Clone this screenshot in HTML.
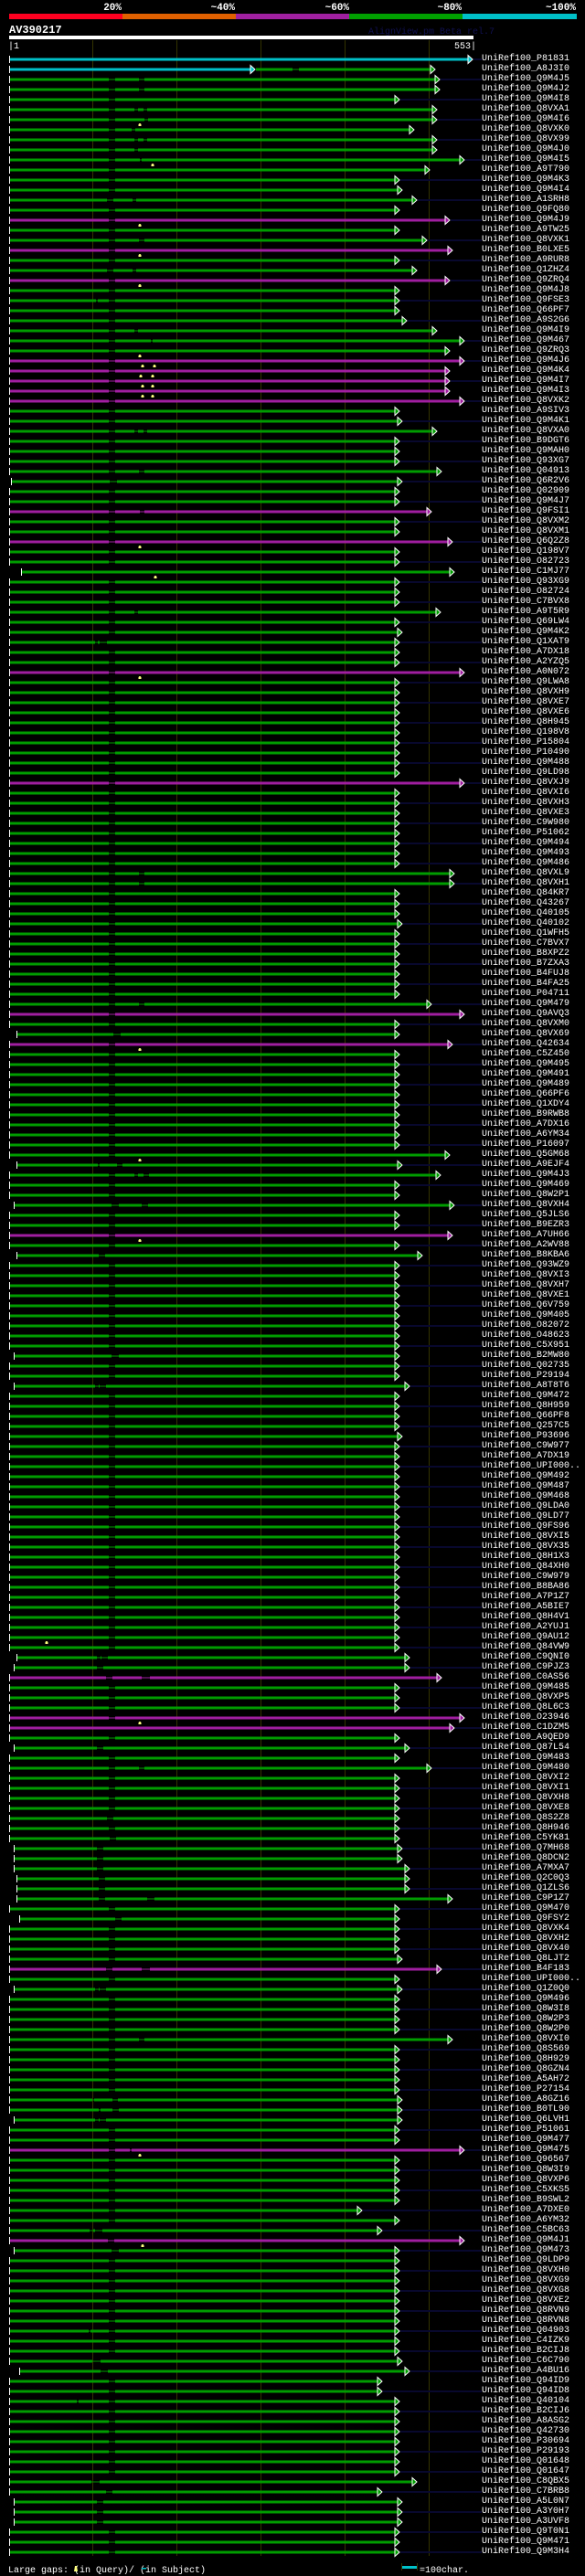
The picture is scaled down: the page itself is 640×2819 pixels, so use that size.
<!DOCTYPE html>
<html><head><meta charset="utf-8">
<style>
html,body{margin:0;padding:0;background:#000;}
body{width:640px;height:2819px;position:relative;overflow:hidden;font-family:"Liberation Mono",monospace;}
#lab{position:absolute;left:527px;top:59px;margin:0;font:10px/11px "Liberation Mono",monospace;color:#fff;white-space:pre;}
svg{position:absolute;left:0;top:0;}
</style></head><body>
<svg id="s" width="640" height="2819" xmlns="http://www.w3.org/2000/svg">
<g font-family="Liberation Mono, monospace" font-weight="bold" font-size="11" fill="#fff" text-anchor="end">
<text x="133" y="11">20%</text><text x="257" y="11">~40%</text><text x="382" y="11">~60%</text><text x="505" y="11">~80%</text><text x="630" y="11">~100%</text>
</g>
<rect x="10" y="15" width="124" height="6" fill="#ff0020"/>
<rect x="134" y="15" width="124" height="6" fill="#e06000"/>
<rect x="258" y="15" width="124" height="6" fill="#a020a0"/>
<rect x="382" y="15" width="124" height="6" fill="#00a000"/>
<rect x="506" y="15" width="125" height="6" fill="#00c0c8"/>
<text x="10" y="36" font-family="Liberation Mono, monospace" font-weight="bold" font-size="12" fill="#fff">AV390217</text>
<text x="403" y="37" font-family="Liberation Mono, monospace" font-size="10" fill="#101050">AlignView.pm Beta rel.7</text>
<rect x="10" y="39" width="508" height="4" fill="#fff"/>
<text x="9" y="53" font-family="Liberation Mono, monospace" font-size="10" fill="#fff">|1</text>
<text x="521" y="53" font-family="Liberation Mono, monospace" font-size="10" fill="#fff" text-anchor="end">553|</text>
<g id="grid" stroke="#333300" stroke-width="1">
<line x1="101.5" y1="44" x2="101.5" y2="2797"/><line x1="193.5" y1="44" x2="193.5" y2="2797"/><line x1="285.5" y1="44" x2="285.5" y2="2797"/><line x1="377.5" y1="44" x2="377.5" y2="2797"/><line x1="469.5" y1="44" x2="469.5" y2="2797"/>
</g>
<g id="rows"></g>
<text x="9" y="2815" font-family="Liberation Mono, monospace" font-size="10" fill="#fff">Large gaps:  (in Query)/  (in Subject)</text>
<polygon points="81,2814 82,2808 84,2808 85,2814" fill="#ffff80"/>
<rect x="155" y="2810" width="5" height="1.5" fill="#00c0c8"/>
<rect x="439" y="2805" width="1" height="8" fill="#333300"/>
<rect x="440" y="2808" width="16" height="3" fill="#00c0c8"/>
<rect x="456" y="2805" width="1" height="8" fill="#333300"/>
<text x="459" y="2815" font-family="Liberation Mono, monospace" font-size="10" fill="#fff">=100char.</text>
</svg>
<pre id="lab">UniRef100_P81831
UniRef100_A8J3I0
UniRef100_Q9M4J5
UniRef100_Q9M4J2
UniRef100_Q9M4I8
UniRef100_Q8VXA1
UniRef100_Q9M4I6
UniRef100_Q8VXK0
UniRef100_Q8VX99
UniRef100_Q9M4J0
UniRef100_Q9M4I5
UniRef100_A9T790
UniRef100_Q9M4K3
UniRef100_Q9M4I4
UniRef100_A1SRH8
UniRef100_Q9FQ80
UniRef100_Q9M4J9
UniRef100_A9TW25
UniRef100_Q8VXK1
UniRef100_B0LXE5
UniRef100_A9RUR8
UniRef100_Q1ZHZ4
UniRef100_Q9ZRQ4
UniRef100_Q9M4J8
UniRef100_Q9FSE3
UniRef100_Q66PF7
UniRef100_A9S2G6
UniRef100_Q9M4I9
UniRef100_Q9M467
UniRef100_Q9ZRQ3
UniRef100_Q9M4J6
UniRef100_Q9M4K4
UniRef100_Q9M4I7
UniRef100_Q9M4I3
UniRef100_Q8VXK2
UniRef100_A9SIV3
UniRef100_Q9M4K1
UniRef100_Q8VXA0
UniRef100_B9DGT6
UniRef100_Q9MAH0
UniRef100_Q93XG7
UniRef100_Q04913
UniRef100_Q6R2V6
UniRef100_Q02909
UniRef100_Q9M4J7
UniRef100_Q9FSI1
UniRef100_Q8VXM2
UniRef100_Q8VXM1
UniRef100_Q6Q2Z8
UniRef100_Q198V7
UniRef100_O82723
UniRef100_C1MJ77
UniRef100_Q93XG9
UniRef100_O82724
UniRef100_C7BVX8
UniRef100_A9T5R9
UniRef100_Q69LW4
UniRef100_Q9M4K2
UniRef100_Q1XAT9
UniRef100_A7DX18
UniRef100_A2YZQ5
UniRef100_A0N072
UniRef100_Q9LWA8
UniRef100_Q8VXH9
UniRef100_Q8VXE7
UniRef100_Q8VXE6
UniRef100_Q8H945
UniRef100_Q198V8
UniRef100_P15804
UniRef100_P10490
UniRef100_Q9M488
UniRef100_Q9LD98
UniRef100_Q8VXJ9
UniRef100_Q8VXI6
UniRef100_Q8VXH3
UniRef100_Q8VXE3
UniRef100_C9W980
UniRef100_P51062
UniRef100_Q9M494
UniRef100_Q9M493
UniRef100_Q9M486
UniRef100_Q8VXL9
UniRef100_Q8VXH1
UniRef100_Q84KR7
UniRef100_Q43267
UniRef100_Q40105
UniRef100_Q40102
UniRef100_Q1WFH5
UniRef100_C7BVX7
UniRef100_B8XPZ2
UniRef100_B7ZXA3
UniRef100_B4FUJ8
UniRef100_B4FA25
UniRef100_P04711
UniRef100_Q9M479
UniRef100_Q9AVQ3
UniRef100_Q8VXM0
UniRef100_Q8VX69
UniRef100_Q42634
UniRef100_C5Z450
UniRef100_Q9M495
UniRef100_Q9M491
UniRef100_Q9M489
UniRef100_Q66PF6
UniRef100_Q1XDY4
UniRef100_B9RWB8
UniRef100_A7DX16
UniRef100_A6YM34
UniRef100_P16097
UniRef100_Q5GM68
UniRef100_A9EJF4
UniRef100_Q9M4J3
UniRef100_Q9M469
UniRef100_Q8W2P1
UniRef100_Q8VXH4
UniRef100_Q5JLS6
UniRef100_B9EZR3
UniRef100_A7UH66
UniRef100_A2WV88
UniRef100_B8KBA6
UniRef100_Q93WZ9
UniRef100_Q8VXI3
UniRef100_Q8VXH7
UniRef100_Q8VXE1
UniRef100_Q6V759
UniRef100_Q9M405
UniRef100_O82072
UniRef100_O48623
UniRef100_C5X951
UniRef100_B2MW80
UniRef100_Q02735
UniRef100_P29194
UniRef100_A8T8T6
UniRef100_Q9M472
UniRef100_Q8H959
UniRef100_Q66PF8
UniRef100_Q257C5
UniRef100_P93696
UniRef100_C9W977
UniRef100_A7DX19
UniRef100_UPI000..
UniRef100_Q9M492
UniRef100_Q9M487
UniRef100_Q9M468
UniRef100_Q9LDA0
UniRef100_Q9LD77
UniRef100_Q9FS96
UniRef100_Q8VXI5
UniRef100_Q8VX35
UniRef100_Q8H1X3
UniRef100_Q84XH0
UniRef100_C9W979
UniRef100_B8BA86
UniRef100_A7P1Z7
UniRef100_A5BIE7
UniRef100_Q8H4V1
UniRef100_A2YUJ1
UniRef100_Q9AU12
UniRef100_Q84VW9
UniRef100_C9QNI0
UniRef100_C9PJZ3
UniRef100_C0AS56
UniRef100_Q9M485
UniRef100_Q8VXP5
UniRef100_Q8L6C3
UniRef100_O23946
UniRef100_C1DZM5
UniRef100_A9QED9
UniRef100_Q87L54
UniRef100_Q9M483
UniRef100_Q9M480
UniRef100_Q8VXI2
UniRef100_Q8VXI1
UniRef100_Q8VXH8
UniRef100_Q8VXE8
UniRef100_Q8S2Z8
UniRef100_Q8H946
UniRef100_C5YK81
UniRef100_Q7MH68
UniRef100_Q8DCN2
UniRef100_A7MXA7
UniRef100_Q2C0Q3
UniRef100_Q1ZLS6
UniRef100_C9P1Z7
UniRef100_Q9M470
UniRef100_Q9FSY2
UniRef100_Q8VXK4
UniRef100_Q8VXH2
UniRef100_Q8VX40
UniRef100_Q8LJT2
UniRef100_B4F183
UniRef100_UPI000..
UniRef100_Q1Z0Q0
UniRef100_Q9M496
UniRef100_Q8W3I8
UniRef100_Q8W2P3
UniRef100_Q8W2P0
UniRef100_Q8VXI0
UniRef100_Q8S569
UniRef100_Q8H929
UniRef100_Q8GZN4
UniRef100_A5AH72
UniRef100_P27154
UniRef100_A8GZ16
UniRef100_B0TL90
UniRef100_Q6LVH1
UniRef100_P51061
UniRef100_Q9M477
UniRef100_Q9M475
UniRef100_Q96567
UniRef100_Q8W3I9
UniRef100_Q8VXP6
UniRef100_C5XKS5
UniRef100_B9SWL2
UniRef100_A7DXE0
UniRef100_A6YM32
UniRef100_C5BC63
UniRef100_Q9M4J1
UniRef100_Q9M473
UniRef100_Q9LDP9
UniRef100_Q8VXH0
UniRef100_Q8VXG9
UniRef100_Q8VXG8
UniRef100_Q8VXE2
UniRef100_Q8RVN9
UniRef100_Q8RVN8
UniRef100_Q04903
UniRef100_C4IZK9
UniRef100_B2CIJ8
UniRef100_C6C790
UniRef100_A4BU16
UniRef100_Q94ID9
UniRef100_Q94ID8
UniRef100_Q40104
UniRef100_B2CIJ6
UniRef100_A8ASG2
UniRef100_Q42730
UniRef100_P30694
UniRef100_P29193
UniRef100_Q01648
UniRef100_Q01647
UniRef100_C8QBX5
UniRef100_C7BRB8
UniRef100_A5L0N7
UniRef100_A3Y0H7
UniRef100_A3UVF8
UniRef100_Q9T0N1
UniRef100_Q9M471
UniRef100_Q9M3H4</pre>
<script>
(function(){
var O={
0:"c,10,512,,",2:"g,10,476,119-126 152-158,",3:"g,10,476,119-126 152-158,",
5:"g,10,473,119-126 147-151 157-161,",6:"g,10,473,119-126 158-162,153",7:"g,10,448,119-126 144-148,",
8:"g,10,473,119-126 147-151 157-161,",9:"g,10,473,119-126 147-151,",10:"g,10,503,119-126 153-155,167",
11:"g,10,465,119-126,",13:"g,10,435,119-126,",14:"g,10,451,117-124 145-149,",16:"m,10,487,119-126,153",
18:"g,10,462,119-126 152-158,",19:"m,10,490,119-126,153",21:"g,10,451,117-124 145-149,",22:"m,10,487,119-126,153",
24:"g,10,432,105-107 119-126,",26:"g,10,440,119-126,",27:"g,10,473,119-126 147-151,",28:"g,10,503,119-126 165-167,",
29:"g,10,487,119-126,153",30:"m,10,503,119-126,156 169",31:"m,10,487,119-126,154 167",32:"m,10,487,119-126,156 167",
33:"m,10,487,119-126,156 167",34:"m,10,503,119-126,",36:"g,10,435,119-126,",37:"g,10,473,119-126 147-151 157-161,",
41:"g,10,478,119-126 152-158,",42:"g,12,435,120-128,",45:"m,10,467,119-126 153-158,",48:"m,10,490,119-126,153",
51:"g,23,492,,170",55:"g,10,477,119-126 147-151,",57:"g,10,435,119-126,",58:"g,10,432,104-107 109-117,",
61:"m,10,503,119-126,153",72:"m,10,503,119-126,",81:"g,10,492,119-126 152-158,",82:"g,10,492,119-126 152-158,",
86:"g,10,435,119-126,",94:"g,10,467,119-126 152-158,",95:"m,10,503,119-126,",97:"g,18,432,124-132,",
98:"m,10,490,119-126,153",109:"g,10,487,119-126,153",110:"g,18,435,107-109 128-134,",111:"g,10,477,119-126 147-151 157-163,",
114:"g,15,492,122-130 155-162,",117:"m,10,490,119-126,153",119:"g,18,457,108-115,",129:"g,15,432,122-130,",
132:"g,15,443,104-108 109-116,",137:"g,10,435,119-126,",157:"g,10,432,119-126,51",159:"g,18,443,106-110 111-118,",
160:"g,15,443,106-113,",161:"m,10,478,116-123 155-164,",165:"m,10,503,119-126,153",166:"m,10,492,,",
168:"g,15,443,106-113,",170:"g,10,467,119-126 152-158,",175:"g,10,432,117-124,",177:"g,10,432,120-127,",
178:"g,15,435,106-113,",179:"g,15,435,106-113,",180:"g,15,443,106-113,",181:"g,18,443,108-115,",182:"g,18,443,108-115,",
183:"g,18,490,108-115 161-169,",185:"g,21,432,126-133,",189:"g,10,435,119-126,",190:"m,10,478,116-123 155-164,",
192:"g,15,435,104-108 109-116,",197:"g,10,490,119-126 152-158,",203:"g,10,435,101-103 123-129,",
204:"g,10,435,108-110 123-130,",205:"g,15,435,104-108 109-116,",208:"m,10,503,119-126 142-144,153",
214:"g,10,391,119-126,",216:"g,10,413,98-102 104-112,",217:"m,10,503,118-125,156",218:"g,15,432,122-130,",
226:"g,10,432,97-99 119-126,",229:"g,10,435,101-110,",230:"g,21,443,110-118,",231:"g,10,413,119-126,",
232:"g,10,413,119-126,",233:"g,10,432,84-86 119-126,",241:"g,10,451,100-109,",242:"g,10,413,116-123,",
243:"g,15,435,106-113,",244:"g,15,435,106-113,",245:"g,15,435,106-113,"
};
var COL={g:"#009c00",m:"#a01ea0",c:"#00c0c8"};
var h=[];
function bar(x1,x2,y,c){if(x2>x1)h.push('<rect x="'+x1+'" y="'+(y-1.5)+'" width="'+(x2-x1)+'" height="3" fill="'+c+'"/>');}
function thin(x1,x2,y,c){h.push('<rect x="'+x1+'" y="'+(y-0.5)+'" width="'+(x2-x1)+'" height="1" fill="'+c+'"/>');}
function arrow(x,y,c){h.push('<polygon points="'+x+','+(y-4.5)+' '+(x+5)+','+y+' '+x+','+(y+4.5)+'" fill="'+c+'" stroke="#fff" stroke-width="1"/>');}
function tick(x,y){h.push('<rect x="'+x+'" y="'+(y-4)+'" width="1" height="8" fill="#fff"/>');}
function ext(x,y){if(527>x)h.push('<rect x="'+x+'" y="'+(y-1)+'" width="'+(527-x)+'" height="2" fill="#08082e"/>');}
function mark(x,y){h.push('<polygon points="'+(x-1.5)+','+(y+7)+' '+(x-1.5)+','+(y+5)+' '+(x-0.5)+','+(y+4)+' '+(x+0.5)+','+(y+4)+' '+(x+1.5)+','+(y+5)+' '+(x+1.5)+','+(y+7)+'" fill="#ffff80"/>');}
for(var i=0;i<249;i++){
 var y=65+i*11;
 if(i===1){
  var cy=COL.c,g=COL.g;
  bar(10,274,y,cy);arrow(274,y,cy);tick(10,y);
  bar(280,320,y,g);thin(320,327,y,g);bar(327,471,y,g);arrow(471,y,g);
  continue;
 }
 var d=(O[i]||"g,10,432,119-126,").split(",");
 var c=COL[d[0]],s=+d[1],e=+d[2];
 if(i%2===0)ext(e+6,y);
 var gaps=d[3]?d[3].split(" ").map(function(p){return p.split("-").map(Number);}):[];
 var cur=s;
 for(var k=0;k<gaps.length;k++){bar(cur,gaps[k][0],y,c);thin(gaps[k][0],gaps[k][1],y,c);cur=gaps[k][1];}
 bar(cur,e,y,c);
 arrow(e,y,c);
 tick(s,y);
 if(d[4]){d[4].split(" ").forEach(function(m){mark(+m,y);});}
}
document.getElementById("rows").innerHTML=h.join("");
})();
</script>
</body></html>
